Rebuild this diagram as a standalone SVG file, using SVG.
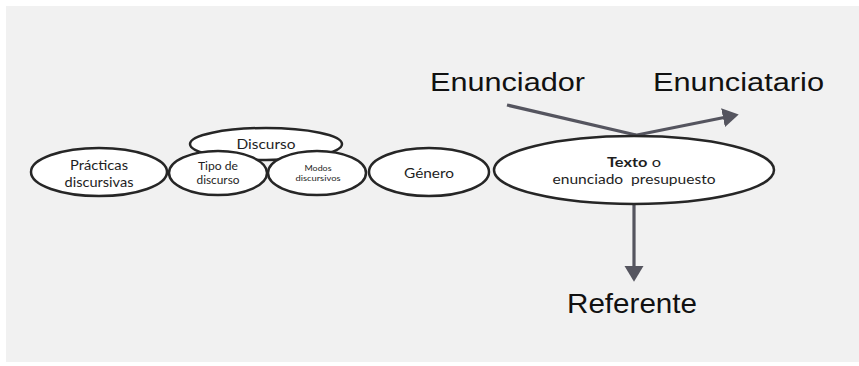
<svg xmlns="http://www.w3.org/2000/svg" width="859" height="366" viewBox="0 0 859 366">
<style>
.node{fill:#ffffff;stroke:#262626;stroke-width:2.5}
.lbl{font-family:Lato,"Open Sans","Liberation Sans",sans-serif;fill:#1e1e1e;text-anchor:middle}
.big{font-family:"Liberation Sans",Arial,sans-serif;fill:#111111}
.conn{stroke:#55555f;stroke-width:3.2;fill:none}
</style>
<defs>
<marker id="ah" markerWidth="6" markerHeight="6" refX="3.5" refY="3" orient="auto" markerUnits="strokeWidth">
<path d="M0,0 L5,3 L0,6 Z" fill="#55555f"/>
</marker>
</defs>
<rect x="0" y="0" width="859" height="366" fill="#ffffff"/>
<rect x="6" y="6" width="853" height="356" fill="#f1f1f1"/>
<g id="discurso">
<ellipse class="node" cx="266" cy="144" rx="76" ry="16"/>
<text class="lbl" x="266" y="149" font-size="14" textLength="59" lengthAdjust="spacingAndGlyphs">Discurso</text>
</g>
<g id="practicas">
<ellipse class="node" cx="99" cy="172" rx="68" ry="24"/>
<text class="lbl" x="99" y="170" font-size="13.5" textLength="58" lengthAdjust="spacingAndGlyphs">Prácticas</text>
<text class="lbl" x="99" y="187" font-size="13.5" textLength="69" lengthAdjust="spacingAndGlyphs">discursivas</text>
</g>
<g id="tipo">
<ellipse class="node" cx="218" cy="173" rx="49" ry="22"/>
<text class="lbl" x="218" y="170" font-size="11" textLength="40" lengthAdjust="spacingAndGlyphs">Tipo de</text>
<text class="lbl" x="218" y="184" font-size="11" textLength="43" lengthAdjust="spacingAndGlyphs">discurso</text>
</g>
<g id="modos">
<ellipse class="node" cx="317" cy="173" rx="49" ry="22"/>
<text class="lbl" x="318" y="171" font-size="8" textLength="27" lengthAdjust="spacingAndGlyphs">Modos</text>
<text class="lbl" x="318" y="181" font-size="8" textLength="45" lengthAdjust="spacingAndGlyphs">discursivos</text>
</g>
<g id="genero">
<ellipse class="node" cx="429" cy="172" rx="60" ry="24"/>
<text class="lbl" x="429" y="178" font-size="13.5" textLength="50" lengthAdjust="spacingAndGlyphs">Género</text>
</g>
<g id="connectors">
<line class="conn" x1="507" y1="105" x2="636" y2="135"/>
<line class="conn" x1="632" y1="136" x2="734" y2="115.5" marker-end="url(#ah)"/>
<line class="conn" x1="634" y1="204" x2="634" y2="277" marker-end="url(#ah)"/>
</g>
<g id="texto">
<ellipse class="node" cx="634" cy="170" rx="140" ry="34"/>
<text class="lbl" x="634" y="167" font-size="13.5" textLength="54" lengthAdjust="spacingAndGlyphs"><tspan font-weight="bold">Texto</tspan> o</text>
<text class="lbl" x="634" y="184" font-size="13.5" textLength="163" lengthAdjust="spacingAndGlyphs" xml:space="preserve">enunciado  presupuesto</text>
</g>
<g id="enunciador">
<text class="big" x="430" y="91" font-size="26" textLength="155" lengthAdjust="spacingAndGlyphs">Enunciador</text>
</g>
<g id="enunciatario">
<text class="big" x="653" y="91" font-size="26" textLength="171" lengthAdjust="spacingAndGlyphs">Enunciatario</text>
</g>
<g id="referente">
<text class="big" x="567" y="313" font-size="28" textLength="130" lengthAdjust="spacingAndGlyphs">Referente</text>
</g>
</svg>
